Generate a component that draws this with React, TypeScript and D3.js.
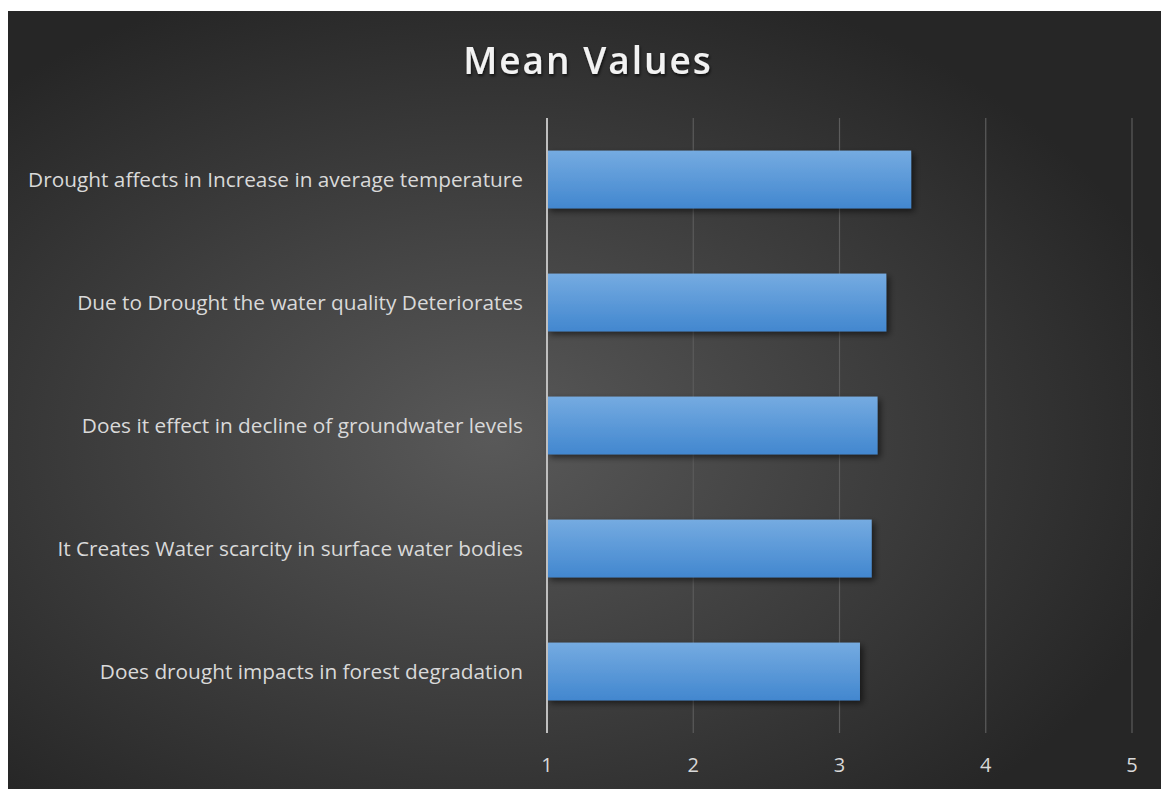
import React from "react";
import * as d3 from "d3";

const categories = [
  "Drought affects in Increase in average temperature",
  "Due to Drought the water quality Deteriorates",
  "Does it effect in decline of groundwater levels",
  "It Creates Water scarcity in surface water bodies",
  "Does drought impacts in forest degradation",
];
const meanValues = [3.49, 3.32, 3.26, 3.22, 3.14];
const xTicks = [1, 2, 3, 4, 5];

const W = 1161;
const H = 789;

export default function App() {
  const x = d3.scaleLinear().domain([1, 5]).range([547, 1132]);
  const y = d3
    .scaleBand<string>()
    .domain(categories)
    .range([118, 733])
    .paddingInner(0.53)
    .paddingOuter(0.265);
  const font = "'Open Sans', 'Noto Sans', sans-serif";
  return (
    <svg
      width={W}
      height={H}
      style={{ position: "absolute", left: 0, top: 0, display: "block" }}
    >
      <defs>
        <radialGradient id="bg" cx="0.42" cy="0.55" r="0.62" gradientUnits="objectBoundingBox">
          <stop offset="0" stopColor="#595959" />
          <stop offset="1" stopColor="#262626" />
        </radialGradient>
        <linearGradient id="bar" x1="0" y1="0" x2="0" y2="1">
          <stop offset="0" stopColor="#75abe1" />
          <stop offset="1" stopColor="#4287cf" />
        </linearGradient>
        <filter id="shadow" x="-10%" y="-30%" width="130%" height="180%">
          <feDropShadow dx="3" dy="3" stdDeviation="3" floodColor="#000" floodOpacity="0.55" />
        </filter>
        <filter id="tshadow" x="-10%" y="-30%" width="130%" height="180%">
          <feDropShadow dx="1" dy="2" stdDeviation="1.5" floodColor="#000" floodOpacity="0.7" />
        </filter>
      </defs>
      <rect x={0} y={0} width={W} height={H} fill="#ffffff" />
      <rect x={8} y={11} width={W - 8} height={H - 11} fill="url(#bg)" />
      <text
        x={588}
        y={74}
        textAnchor="middle"
        fill="#f2f2f2"
        fontFamily={font}
        fontWeight={600}
        fontSize={37}
        letterSpacing={2}
        filter="url(#tshadow)"
      >
        Mean Values
      </text>
      {xTicks.map((t) => (
        <g key={t}>
          {t !== 1 && (
            <line x1={x(t)} x2={x(t)} y1={118} y2={733} stroke="#5c5c5c" strokeWidth={1.2} />
          )}
          <text
            x={x(t)}
            y={772}
            textAnchor="middle"
            fill="#d9d9d9"
            fontFamily={font}
            fontSize={20}
          >
            {t}
          </text>
        </g>
      ))}
      {categories.map((c, i) => (
        <g key={c}>
          <rect
            x={x(1)}
            y={y(c)!}
            width={x(meanValues[i]) - x(1)}
            height={y.bandwidth()}
            fill="url(#bar)"
            filter="url(#shadow)"
          />
          <text
            x={523}
            y={y(c)! + y.bandwidth() / 2}
            dy="0.35em"
            textAnchor="end"
            fill="#d9d9d9"
            fontFamily={font}
            fontSize={20.8}
          >
            {c}
          </text>
        </g>
      ))}
      <line x1={x(1)} x2={x(1)} y1={118} y2={733} stroke="#bfbfbf" strokeWidth={2} />
    </svg>
  );
}
